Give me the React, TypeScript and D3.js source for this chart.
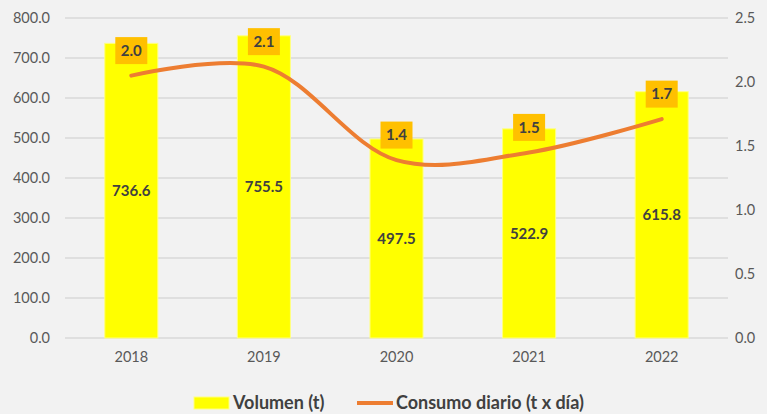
import React from 'react';
import * as d3 from 'd3';

// chart data
const years = ['2018', '2019', '2020', '2021', '2022'];
const volumen = [736.6, 755.5, 497.5, 522.9, 615.8];
const consumo = [2.05, 2.12, 1.39, 1.45, 1.71];
const consumoLabels = ['2.0', '2.1', '1.4', '1.5', '1.7'];
const leftTicks = [0, 100, 200, 300, 400, 500, 600, 700, 800];
const rightTicks = [0, 0.5, 1.0, 1.5, 2.0, 2.5];

const W = 767;
const H = 414;
const margin = { top: 18, right: 39, bottom: 76, left: 65 };
const FONT = 'Lato, "Open Sans", sans-serif';

const App = () => {
  const innerW = W - margin.left - margin.right;
  const innerH = H - margin.top - margin.bottom;

  const x = d3.scaleBand().domain(years).range([0, innerW]).paddingInner(0.6).paddingOuter(0.3);
  const yL = d3.scaleLinear().domain([0, 800]).range([innerH, 0]);
  const yR = d3.scaleLinear().domain([0, 2.5]).range([innerH, 0]);
  const cx = (d: string) => (x(d) as number) + x.bandwidth() / 2;

  const line = d3.line<number>()
    .x((_, i) => cx(years[i]))
    .y(d => yR(d))
    .curve(d3.curveCatmullRom.alpha(0.5));

  return (
    <div style={{ position: 'fixed', left: 0, top: 0 }}>
      <svg width={W} height={H} style={{ display: 'block', background: '#f2f2f2', fontFamily: FONT }}>
        <g transform={`translate(${margin.left},${margin.top})`}>
          {/* gridlines */}
          {leftTicks.map(t => (
            <line key={t} x1={0} x2={innerW} y1={yL(t)} y2={yL(t)} stroke="#d9d9d9" strokeWidth={1.3} />
          ))}
          {/* left axis */}
          {leftTicks.map(t => (
            <text key={t} x={-15} y={yL(t)} dy="0.35em" textAnchor="end" fontSize={14.5} fill="#595959">
              {t.toFixed(1)}
            </text>
          ))}
          {/* right axis */}
          {rightTicks.map(t => (
            <text key={t} x={innerW + 7} y={yR(t)} dy="0.35em" textAnchor="start" fontSize={14.5} fill="#595959">
              {t.toFixed(1)}
            </text>
          ))}
          {/* x labels */}
          {years.map(y => (
            <text key={y} x={cx(y)} y={innerH + 24} textAnchor="middle" fontSize={14.5} fill="#595959">{y}</text>
          ))}
          {/* bars */}
          {years.map((y, i) => (
            <rect key={y} x={x(y)} y={yL(volumen[i])} width={x.bandwidth()} height={innerH - yL(volumen[i])}
              fill="#ffff00" stroke="#ffff80" strokeWidth={1} />
          ))}
          {years.map((y, i) => (
            <text key={y} x={cx(y)} y={(yL(volumen[i]) + innerH) / 2} dy="0.35em" textAnchor="middle"
              fontSize={15} fontWeight="bold" fill="#404040">{volumen[i].toFixed(1)}</text>
          ))}
          {/* line */}
          <path d={line(consumo) || ''} fill="none" stroke="#ed7d31" strokeWidth={4} strokeLinecap="round" />
          {years.map((y, i) => (
            <g key={y} transform={`translate(${cx(y)},${yR(consumo[i]) - 25})`}>
              <rect x={-16} y={-13.5} width={32} height={27} fill="#ffc000" />
              <text y={0} dy="0.35em" textAnchor="middle" fontSize={15} fontWeight="bold" fill="#404040">
                {consumoLabels[i]}
              </text>
            </g>
          ))}
        </g>
        {/* legend */}
        <g transform="translate(194,397)">
          <rect x={0} y={0} width={35} height={12} fill="#ffff00" stroke="#ffff80" />
          <text x={39} y={6} dy="0.35em" fontSize={18} fontWeight="bold" fill="#404040">Volumen (t)</text>
          <line x1={163} x2={199} y1={6} y2={6} stroke="#ed7d31" strokeWidth={4} />
          <text x={202} y={6} dy="0.35em" fontSize={18} fontWeight="bold" fill="#404040">Consumo diario (t x día)</text>
        </g>
      </svg>
    </div>
  );
};

export default App;
